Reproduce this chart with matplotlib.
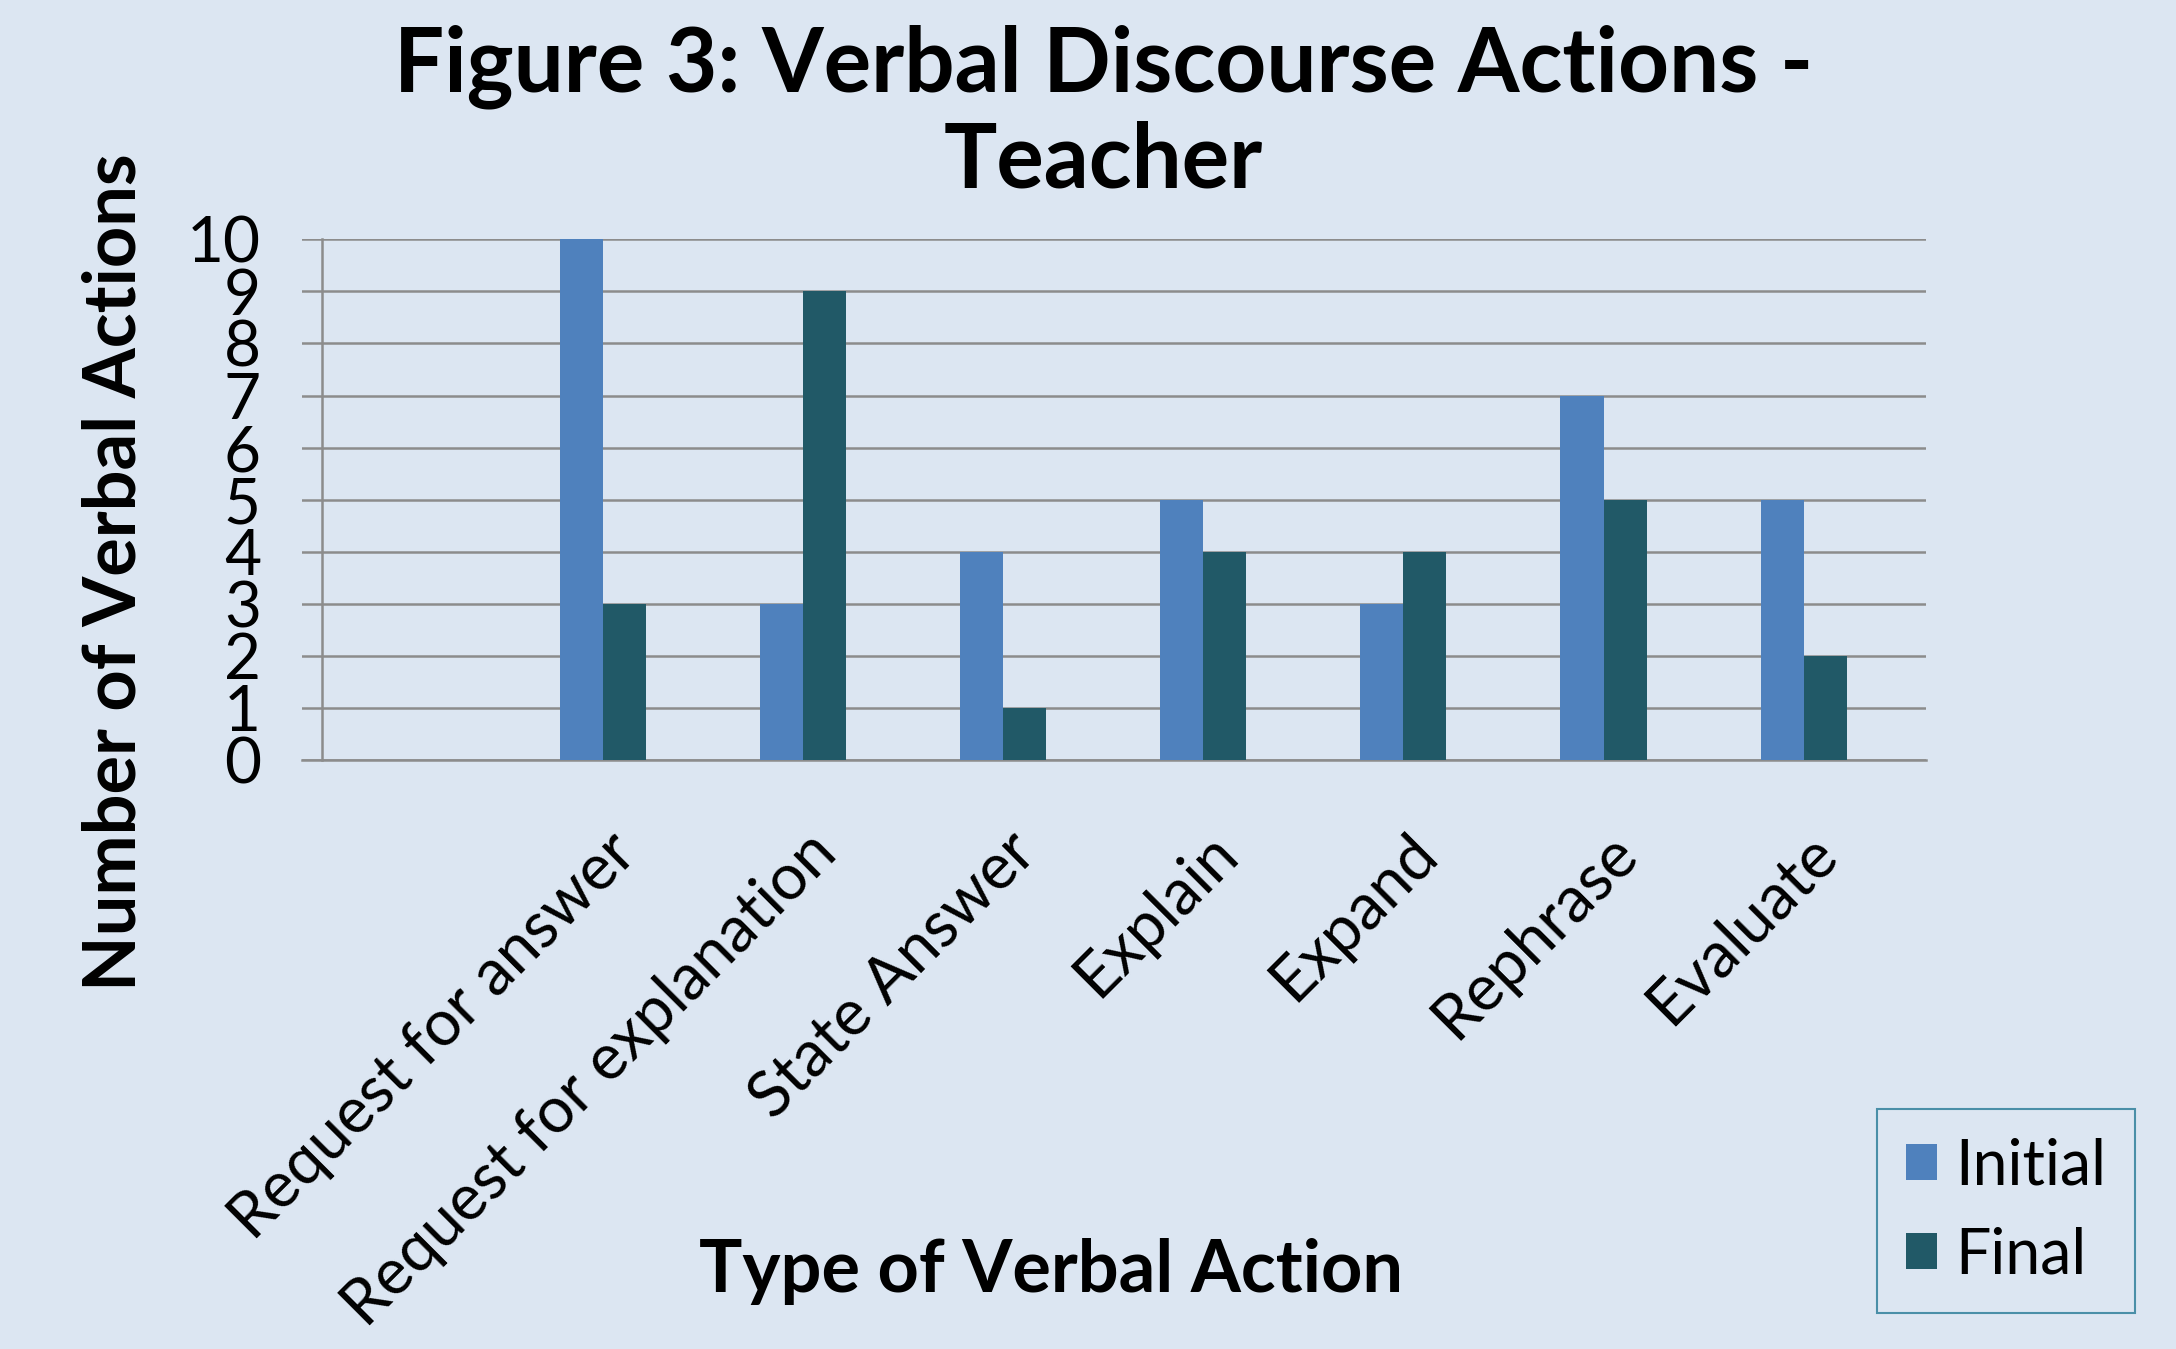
import matplotlib
matplotlib.use("Agg")
import matplotlib.pyplot as plt
import matplotlib.transforms as mtransforms
import numpy as np

# data
categories = ["Request for answer", "Request for explanation", "State Answer",
              "Explain", "Expand", "Rephrase", "Evaluate"]
initial = [10, 3, 4, 5, 3, 7, 5]
final = [3, 9, 1, 4, 4, 5, 2]
y_ticks = list(range(0, 11))

BG = "#DCE6F2"
C_INITIAL = "#4F81BD"
C_FINAL = "#215967"

plt.rcParams["font.family"] = ["Lato", "DejaVu Sans"]


def main():
    fig = plt.figure(figsize=(21.76, 13.49), dpi=100, facecolor=BG)
    ax = fig.add_axes([0.139, 0.4366, 0.746, 0.386], facecolor=BG)

    # first slot of the category axis is left empty, as in the original
    x = np.arange(1, len(categories) + 1)
    w = 0.215
    ax.bar(x - w / 2, initial, width=w, color=C_INITIAL, label="Initial", zorder=3)
    ax.bar(x + w / 2, final, width=w, color=C_FINAL, label="Final", zorder=3)

    ax.set_xlim(-0.5, 7.61)
    ax.set_ylim(0, 10)
    ax.set_yticks(y_ticks)
    ax.yaxis.grid(True, color="#8C8C8C", linewidth=1.8, zorder=0)
    ax.set_axisbelow(True)

    for s in ("top", "right"):
        ax.spines[s].set_visible(False)
    ax.spines["left"].set_position(("axes", 0.012))
    ax.spines["left"].set_color("#8C8C8C")
    ax.spines["left"].set_linewidth(1.8)
    ax.spines["bottom"].set_color("#8C8C8C")
    ax.spines["bottom"].set_linewidth(1.8)

    ax.tick_params(axis="y", length=0, pad=44, labelsize=46)
    ax.tick_params(axis="x", length=0, pad=60, labelsize=46)

    ax.set_xticks(x)
    ax.set_xticklabels(categories, rotation=45, ha="right", va="center",
                       rotation_mode="anchor")
    shift = mtransforms.ScaledTranslation(0.24, 0, fig.dpi_scale_trans)
    for lab in ax.get_xticklabels():
        lab.set_transform(lab.get_transform() + shift)

    ax.set_ylabel("Number of Verbal Actions", fontsize=52, fontweight="bold")
    ax.yaxis.set_label_coords(-0.095, 0.36)
    ax.set_xlabel("Type of Verbal Action", fontsize=52, fontweight="bold")
    ax.xaxis.set_label_coords(0.461, -0.917)

    fig.suptitle("Figure 3: Verbal Discourse Actions -\nTeacher", x=0.507, y=0.916,
                 va="center", fontsize=64, fontweight="bold", linespacing=1.17)

    leg = fig.legend(loc="lower right", bbox_to_anchor=(0.981, 0.027), fontsize=45,
                     handlelength=0.5, handleheight=0.5, handletextpad=0.3,
                     labelspacing=0.5, borderpad=0.45, borderaxespad=0,
                     fancybox=False, facecolor=BG, edgecolor="#4A8FA8",
                     framealpha=1)
    leg.get_frame().set_linewidth(1.5)

    fig.savefig("out.png", dpi=100, facecolor=BG)


if __name__ == "__main__":
    main()
